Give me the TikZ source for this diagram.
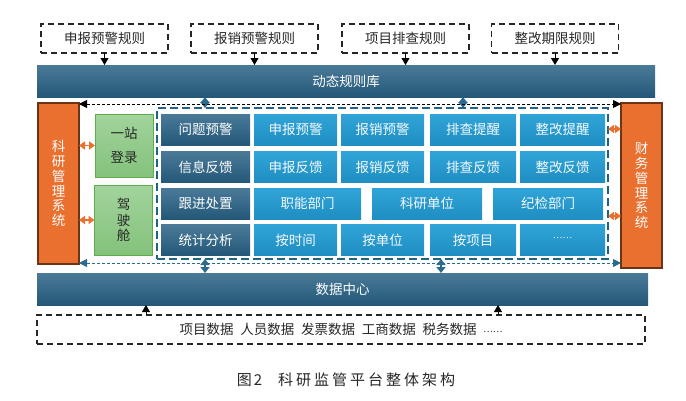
\documentclass[tikz,border=0pt]{standalone}
\usepackage{fontspec}
\setmainfont{Noto Sans CJK SC}
\usetikzlibrary{arrows.meta}

\definecolor{barhi}{HTML}{4A7A98}
\definecolor{barlo}{HTML}{245878}
\definecolor{cellhi}{HTML}{30A4D8}
\definecolor{celllo}{HTML}{1F8EC2}
\definecolor{sysorange}{HTML}{E9702F}
\definecolor{sysedge}{HTML}{6B3417}
\definecolor{greenhi}{HTML}{A2D49C}
\definecolor{greenlo}{HTML}{84C27C}
\definecolor{greenedge}{HTML}{5DAE4B}
\definecolor{coreblue}{HTML}{1F6385}
\definecolor{linkblue}{HTML}{2A6A8C}

\newcommand{\lbl}{\fontsize{13.5}{15}\selectfont}
\newcommand{\moredots}[1]{\raisebox{#1}{\fontsize{9}{9}\selectfont ……}}

\tikzset{
  rulebox/.style={draw=black!85, line width=1.4pt, dash pattern=on 6pt off 4pt,
    minimum width=127pt, minimum height=29pt, inner sep=0pt, outer sep=0pt, text=black!85, font=\lbl},
  bar/.style={top color=barhi, bottom color=barlo, minimum height=32pt,
    inner sep=0pt, outer sep=0pt, text=white, font=\lbl},
  sysbox/.style={fill=sysorange, draw=sysedge, line width=1.3pt, minimum width=41pt,
    inner sep=0pt, outer sep=0pt, text=white, align=center, font=\fontsize{13.5}{14.8}\selectfont},
  greenbox/.style={top color=greenhi, bottom color=greenlo, draw=greenedge, line width=0.8pt,
    minimum width=58pt, inner sep=0pt, outer sep=0pt, align=center, text=black!85},
  dcell/.style={top color=barhi, bottom color=barlo, minimum width=89pt, minimum height=31pt,
    inner sep=0pt, outer sep=0pt, text=white, font=\lbl},
  lcell/.style={top color=cellhi, bottom color=celllo, minimum width=84pt, minimum height=31pt,
    inner sep=0pt, outer sep=0pt, text=white!95!cellhi, font=\lbl},
  corebox/.style={draw=coreblue, line width=1.5pt, dash pattern=on 8pt off 4pt,
    minimum width=451pt, minimum height=151pt, inner sep=0pt, outer sep=0pt},
  down/.style={-{Triangle[length=7pt,width=8pt]}, line width=1pt, black},
  vlink/.style={{Triangle[length=6pt,width=9pt]}-{Triangle[length=6pt,width=9pt]}, line width=1.8pt, linkblue},
  olink/.style={{Triangle[length=6pt,width=8pt]}-{Triangle[length=6pt,width=8pt]}, line width=1.8pt, sysorange},
  sync/.style={{Triangle[length=8pt,width=8pt]}-{Triangle[length=8pt,width=8pt]}, line width=0.9pt, dash pattern=on 3pt off 2pt}
}

\begin{document}
\begin{tikzpicture}[x=1pt,y=-1pt]
\useasboundingbox (0,0) rectangle (686,400);

% rules on top
\node[rulebox] (r1) at (104.5,38.5) {申报预警规则};
\node[rulebox] (r2) at (254.5,38.5) {报销预警规则};
\node[rulebox] (r3) at (405.5,38.5) {项目排查规则};
\node[rulebox] (r4) at (555,38.5) {整改期限规则};

\node[bar, minimum width=618pt] (rules) at (346,81) {动态规则库};
\node[bar, minimum width=611pt] (data) at (342.5,289) {数据中心};

\draw[down] (r1.south) -- (r1.south |- rules.north);
\draw[down] (r2.south) -- (r2.south |- rules.north);
\draw[down] (r3.south) -- (r3.south |- rules.north);
\draw[down] (r4.south) -- (r4.south |- rules.north);

% side systems
\node[sysbox, minimum height=161pt] (lsys) at (58.5,183.5) {科\\研\\管\\理\\系\\统};
\node[sysbox, minimum height=165pt] (rsys) at (641.5,185.5) {财\\务\\管\\理\\系\\统};

\node[greenbox, minimum height=63pt, font=\fontsize{13.5}{24}\selectfont] (login) at (124,145.5) {一站\\登录};
\node[greenbox, minimum height=70pt, font=\fontsize{13.5}{15.5}\selectfont] (cockpit) at (123.5,220) {驾\\驶\\舱};

% platform core
\node[corebox] (core) at (382.5,183.5) {};

\node[dcell] (d1) at (205.5,129.5) {问题预警};
\node[lcell, minimum width=83pt] (c12) at (295.5,129.5) {申报预警};
\node[lcell, minimum width=83pt] (c13) at (382.5,129.5) {报销预警};
\node[lcell, minimum width=86pt] (c14) at (473,129.5) {排查提醒};
\node[lcell, minimum width=85pt] (c15) at (562.5,129.5) {整改提醒};

\node[dcell] (d2) at (205.5,167) {信息反馈};
\node[lcell, minimum width=83pt] (c22) at (295.5,167) {申报反馈};
\node[lcell, minimum width=83pt] (c23) at (382.5,167) {报销反馈};
\node[lcell, minimum width=86pt] (c24) at (473,167) {排查反馈};
\node[lcell, minimum width=85pt] (c25) at (562.5,167) {整改反馈};

\node[dcell] (d3) at (205.5,203.5) {跟进处置};
\node[lcell, minimum width=107pt] (c32) at (307.5,203.5) {职能部门};
\node[lcell, minimum width=110pt] (c33) at (427,203.5) {科研单位};
\node[lcell, minimum width=110pt] (c34) at (548,203.5) {纪检部门};

\node[dcell] (d4) at (205.5,240) {统计分析};
\node[lcell, minimum width=83pt] (c42) at (295.5,240) {按时间};
\node[lcell, minimum width=83pt] (c43) at (382.5,240) {按单位};
\node[lcell, minimum width=86pt] (c44) at (473,240) {按项目};
\node[lcell, minimum width=85pt] (c45) at (562.5,240) {\moredots{3.5pt}};

% sources at the bottom
\node[rulebox, minimum width=608pt] (src) at (341,329.5)
  {项目数据\enspace 人员数据\enspace 发票数据\enspace 工商数据\enspace 税务数据\enspace \moredots{2pt}};

\coordinate (s1) at (146,315);
\coordinate (s2) at (498,315);
\draw[down] (s1) -- (s1 |- data.south);
\draw[down] (s2) -- (s2 |- data.south);

% links between layers
\coordinate (ta) at (205,97);
\coordinate (tb) at (463,97);
\coordinate (ba) at (205,273);
\coordinate (bb) at (441,273);
\draw[vlink] (ta) -- (ta |- core.north);
\draw[vlink] (tb) -- (tb |- core.north);
\draw[vlink] (ba) -- (ba |- core.south);
\draw[vlink] (bb) -- (bb |- core.south);

\draw[olink] (lsys.east |- login.west) -- (login.west);
\draw[olink] (lsys.east |- cockpit.west) -- (cockpit.west);
\coordinate (ra) at (608,129);
\coordinate (rb) at (608,216);
\draw[olink] (ra) -- (ra -| rsys.west);
\draw[olink] (rb) -- (rb -| rsys.west);

% sync lines between the two systems
\coordinate (t1) at ([yshift=-1pt]lsys.north east);
\coordinate (b1) at ([yshift=1pt]lsys.south east);
\draw[sync, black] (t1) -- (t1 -| rsys.west);
\draw[sync, linkblue] (b1) -- (b1 -| rsys.west);

\node[font=\fontsize{15}{15}\selectfont, text=black!85] (cap) at (346,380)
  {图\kern2pt 2\hspace{16pt}科\kern3pt 研\kern3pt 监\kern3pt 管\kern3pt 平\kern3pt 台\kern3pt 整\kern3pt 体\kern3pt 架\kern3pt 构};
\end{tikzpicture}
\end{document}
